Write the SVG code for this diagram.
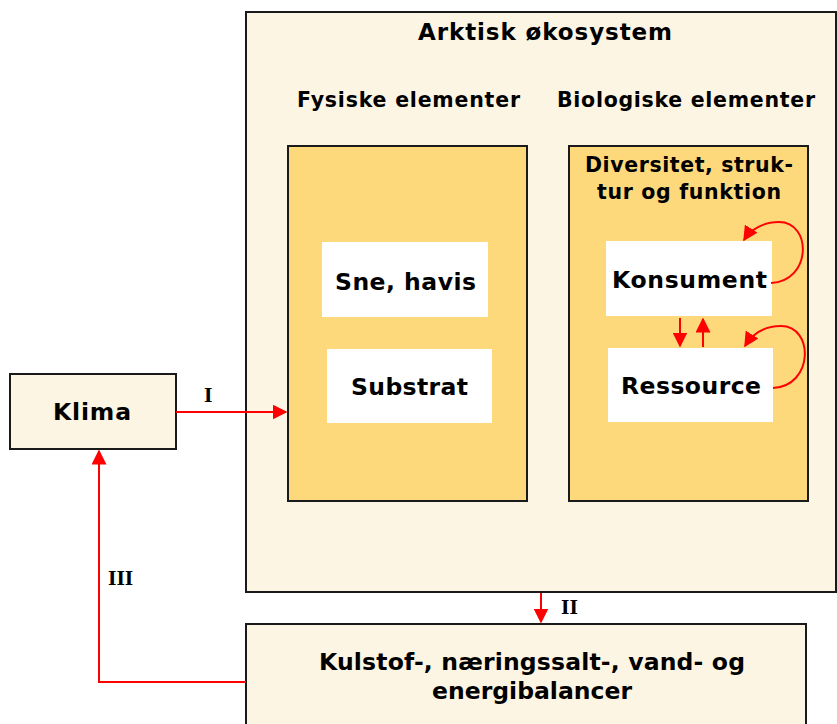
<svg xmlns="http://www.w3.org/2000/svg" width="837" height="724" viewBox="0 0 837 724">
<style>
.box{fill:#fdf5e3;stroke:#1a1a1a;stroke-width:2}
.ybox{fill:#fdd97c;stroke:#1a1a1a;stroke-width:2}
.wbox{fill:#ffffff;stroke:none}
.t{font-family:"DejaVu Sans",Verdana,sans-serif;font-weight:bold;fill:#000;text-anchor:middle}
.lbl{font-family:"DejaVu Serif","Liberation Serif",serif;font-weight:bold;fill:#000;font-size:18px}
.con{fill:none;stroke:#ff0000;stroke-width:2}
</style>
<defs>
<marker id="ah2" viewBox="0 0 10 10" refX="9" refY="5" markerWidth="15" markerHeight="15" markerUnits="userSpaceOnUse" orient="auto">
<path d="M0,0 L10,5 L0,10 z" fill="#ff0000"/>
</marker>
</defs>
<rect width="837" height="724" fill="#ffffff"/>
<g id="ecosystem">
<rect class="box" x="246" y="12" width="590" height="580"/>
<text class="t" x="545" y="40" font-size="23" textLength="254" lengthAdjust="spacing">Arktisk økosystem</text>
</g>
<g id="fysiske">
<text class="t" x="408.5" y="107" font-size="20.5" textLength="223" lengthAdjust="spacing">Fysiske elementer</text>
<rect class="ybox" x="288" y="146" width="239" height="355"/>
</g>
<g id="biologiske">
<text class="t" x="686" y="107" font-size="20.5" textLength="258" lengthAdjust="spacing">Biologiske elementer</text>
<rect class="ybox" x="569" y="146" width="239" height="355"/>
<text class="t" x="689" y="172" font-size="20.5" textLength="208" lengthAdjust="spacing">Diversitet, struk-</text>
<text class="t" x="689" y="199" font-size="20.5" textLength="184" lengthAdjust="spacing">tur og funktion</text>
</g>
<g id="sne">
<rect class="wbox" x="322" y="242" width="166" height="75"/>
<text class="t" x="405.5" y="290" font-size="23.5" textLength="141" lengthAdjust="spacing">Sne, havis</text>
</g>
<g id="substrat">
<rect class="wbox" x="327" y="349" width="165" height="74"/>
<text class="t" x="409.5" y="395" font-size="23.5" textLength="117" lengthAdjust="spacing">Substrat</text>
</g>
<g id="konsument">
<rect class="wbox" x="606" y="241" width="166" height="75"/>
<text class="t" x="689.5" y="288" font-size="23.5" textLength="155" lengthAdjust="spacing">Konsument</text>
</g>
<g id="ressource">
<rect class="wbox" x="608" y="348" width="165" height="74"/>
<text class="t" x="691" y="394" font-size="23.5" textLength="140" lengthAdjust="spacing">Ressource</text>
</g>
<g id="klima">
<rect class="box" x="10" y="374" width="166" height="75"/>
<text class="t" x="92" y="420" font-size="23.5" textLength="78" lengthAdjust="spacing">Klima</text>
</g>
<g id="balancer">
<rect class="box" x="246" y="624" width="560" height="110"/>
<text class="t" x="532" y="670" font-size="23.5" textLength="426" lengthAdjust="spacing">Kulstof-, næringssalt-, vand- og</text>
<text class="t" x="532" y="699" font-size="23.5" textLength="200" lengthAdjust="spacing">energibalancer</text>
</g>
<g id="connectors">
<path class="con" d="M176,412 L286,412" marker-end="url(#ah2)"/>
<text class="lbl" x="204" y="402">I</text>
<path class="con" d="M541,593 L541,622" marker-end="url(#ah2)"/>
<text class="lbl" x="561" y="614">II</text>
<path class="con" d="M246,682 L99,682 L99,451" marker-end="url(#ah2)"/>
<text class="lbl" x="108" y="585">III</text>
<path class="con" d="M680,318 L680,346" marker-end="url(#ah2)"/>
<path class="con" d="M703,347 L703,319" marker-end="url(#ah2)"/>
<path class="con" d="M771,283 C812,281 812,222 779,222 C764,222 751,229 744,240" marker-end="url(#ah2)"/>
<path class="con" d="M773,388 C814,386 814,326 781,326 C766,326 753,333 745,346" marker-end="url(#ah2)"/>
</g>
</svg>
